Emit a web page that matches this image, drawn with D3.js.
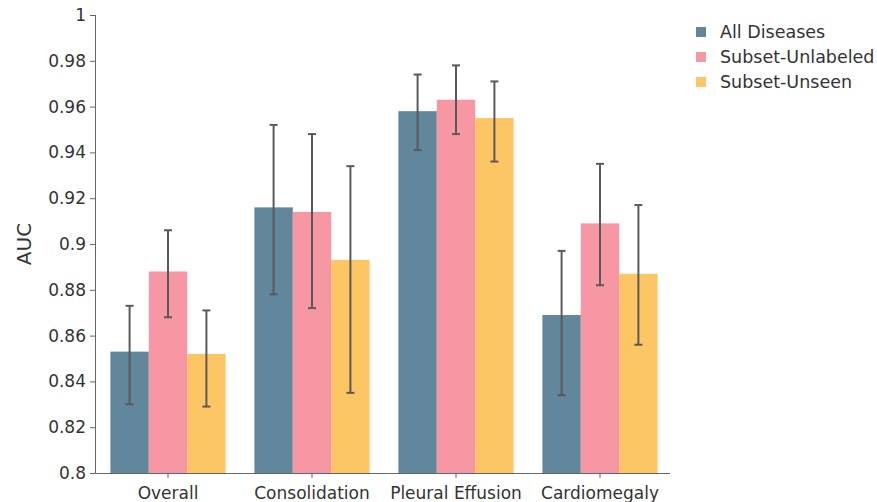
<!DOCTYPE html>
<html><head><meta charset="utf-8">
<script src="https://cdn.jsdelivr.net/npm/d3@7"></script>
<style>body{margin:0;background:#fff;} text{font-family:"DejaVu Sans",Verdana,sans-serif;}</style>
</head><body>
<svg id="chart" width="877" height="502"></svg>
<script>
const categories = ["Overall", "Consolidation", "Pleural Effusion", "Cardiomegaly"];
const seriesNames = ["All Diseases", "Subset-Unlabeled", "Subset-Unseen"];
const seriesColors = ["#62869b", "#f797a3", "#fdc664"];
const allDiseases = [0.853, 0.916, 0.958, 0.869];
const allDiseasesLow = [0.830, 0.878, 0.941, 0.834];
const allDiseasesHigh = [0.873, 0.952, 0.974, 0.897];
const subsetUnlabeled = [0.888, 0.914, 0.963, 0.909];
const subsetUnlabeledLow = [0.868, 0.872, 0.948, 0.882];
const subsetUnlabeledHigh = [0.906, 0.948, 0.978, 0.935];
const subsetUnseen = [0.852, 0.893, 0.955, 0.887];
const subsetUnseenLow = [0.829, 0.835, 0.936, 0.856];
const subsetUnseenHigh = [0.871, 0.934, 0.971, 0.917];
const yTicks = [0.8, 0.82, 0.84, 0.86, 0.88, 0.9, 0.92, 0.94, 0.96, 0.98, 1];
const yTickLabels = ["0.8", "0.82", "0.84", "0.86", "0.88", "0.9", "0.92", "0.94", "0.96", "0.98", "1"];

(function () {
const series = [
  {name: seriesNames[0], color: seriesColors[0], v: allDiseases, lo: allDiseasesLow, hi: allDiseasesHigh},
  {name: seriesNames[1], color: seriesColors[1], v: subsetUnlabeled, lo: subsetUnlabeledLow, hi: subsetUnlabeledHigh},
  {name: seriesNames[2], color: seriesColors[2], v: subsetUnseen, lo: subsetUnseenLow, hi: subsetUnseenHigh}
];

const svg = d3.select("#chart");
const mLeft = 96, mRight = 672, mTop = 15, mBottom = 473;
const x = d3.scaleBand().domain(categories).range([mLeft, mRight]).paddingInner(0).paddingOuter(0);
const inner = d3.scaleBand().domain(seriesNames).range([x.bandwidth()*0.1, x.bandwidth()*0.9]);
const y = d3.scaleLinear().domain([0.8, 1]).range([mBottom, mTop]);

const g = svg.append("g");
series.forEach(s => {
  const sg = g.append("g");
  sg.selectAll("rect").data(categories).join("rect")
    .attr("x", (c) => x(c) + inner(s.name))
    .attr("width", inner.bandwidth())
    .attr("y", (c, i) => y(s.v[i]))
    .attr("height", (c, i) => y(0.8) - y(s.v[i]))
    .attr("fill", s.color);
});
series.forEach(s => {
  const eg = g.append("g").attr("stroke", "#5a5a5a").attr("stroke-width", 2);
  categories.forEach((c, i) => {
    const cx = x(c) + inner(s.name) + inner.bandwidth()/2;
    eg.append("line").attr("x1", cx).attr("x2", cx).attr("y1", y(s.lo[i])).attr("y2", y(s.hi[i]));
    eg.append("line").attr("x1", cx-4).attr("x2", cx+4).attr("y1", y(s.lo[i])).attr("y2", y(s.lo[i]));
    eg.append("line").attr("x1", cx-4).attr("x2", cx+4).attr("y1", y(s.hi[i])).attr("y2", y(s.hi[i]));
  });
});

const yAxis = svg.append("g").attr("transform", `translate(${mLeft-1},0)`)
  .call(d3.axisLeft(y).tickValues(yTicks).tickFormat((d, i) => yTickLabels[i]).tickSize(5).tickPadding(4).tickSizeOuter(0));
const xAxis = svg.append("g").attr("transform", `translate(0,${mBottom})`)
  .call(d3.axisBottom(x).tickSize(5).tickPadding(9).tickSizeOuter(0));
[yAxis, xAxis].forEach(a => {
  a.selectAll("path,line").attr("stroke", "#666").attr("stroke-width", 1);
  a.selectAll("text").attr("fill", "#333").style("font-size", "17px").style("font-family", '"DejaVu Sans",Verdana,sans-serif');
});
xAxis.select(".domain").attr("d", `M${mLeft-1},0.5H${mRight-2}`);
yAxis.select(".domain").attr("d", `M0.5,${mTop}V${mBottom}`);

svg.append("text").attr("transform", `translate(31,${(mTop+mBottom)/2}) rotate(-90)`)
  .attr("text-anchor", "middle").attr("fill", "#333").style("font-size", "20px").text("AUC");

const leg = svg.append("g").attr("transform", "translate(696,32)");
series.forEach((s, i) => {
  leg.append("rect").attr("x", 0).attr("y", i*25 - 5).attr("width", 10).attr("height", 10).attr("fill", s.color);
  leg.append("text").attr("x", 24).attr("y", i*25).attr("dy", "0.35em").attr("fill", "#333").style("font-size", "17.5px").text(s.name);
});
})();
</script>
</body></html>
